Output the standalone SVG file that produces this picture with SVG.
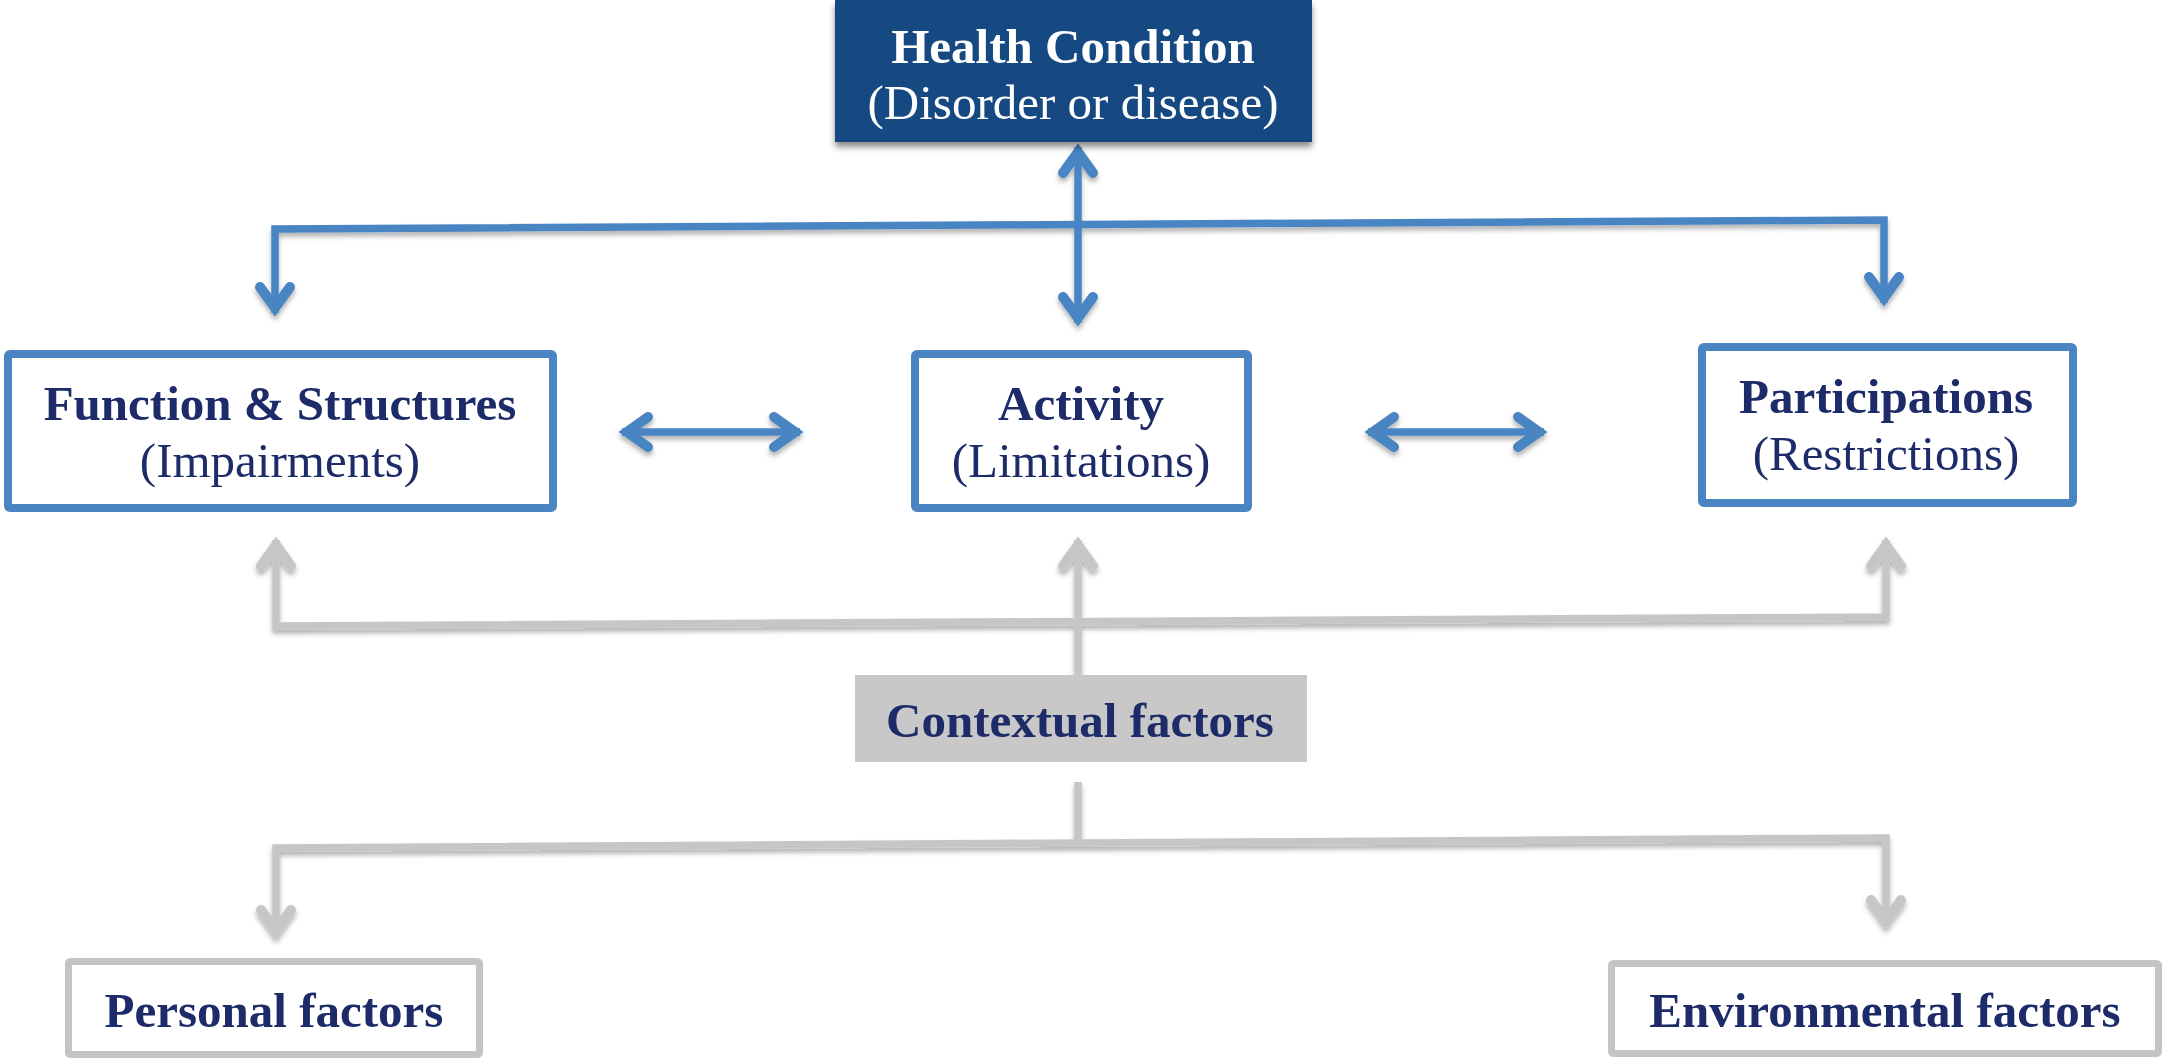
<svg xmlns="http://www.w3.org/2000/svg" width="2165" height="1062" viewBox="0 0 2165 1062">
<style>
.t{font-family:"Liberation Serif","Times New Roman",serif;font-size:49px;fill:#1d2b69;text-anchor:middle}
.b{font-weight:bold}
.w{fill:#ffffff}
.bbox{fill:#ffffff;stroke:#4a84c3;stroke-width:8}
.gbox{fill:#ffffff;stroke:#c4c4c4;stroke-width:7}
.blue{fill:none;stroke:#4a84c3;stroke-width:7.5;stroke-linejoin:miter}
.gray{fill:none;stroke:#c6c6c6;stroke-width:7.5;stroke-linejoin:miter}
</style>
<defs>
<filter id="sh" x="-20%" y="-20%" width="140%" height="160%">
<feDropShadow dx="0" dy="5" stdDeviation="3" flood-color="#000" flood-opacity="0.45"/>
</filter>
<filter id="lsh" x="-5%" y="-50%" width="110%" height="200%">
<feDropShadow dx="0" dy="4" stdDeviation="2.5" flood-color="#000" flood-opacity="0.3"/>
</filter>
<marker id="ab" markerUnits="userSpaceOnUse" viewBox="-40 -25 50 50" markerWidth="50" markerHeight="50" refX="0" refY="0" orient="auto-start-reverse">
<path d="M-26,-15 L-5,0 L-26,15" fill="none" stroke="#4a84c3" stroke-width="10" stroke-linecap="round" stroke-linejoin="miter"/>
</marker>
<marker id="ag" markerUnits="userSpaceOnUse" viewBox="-40 -25 50 50" markerWidth="50" markerHeight="50" refX="0" refY="0" orient="auto-start-reverse">
<path d="M-26,-15 L-5,0 L-26,15" fill="none" stroke="#c6c6c6" stroke-width="10" stroke-linecap="round" stroke-linejoin="miter"/>
</marker>
</defs>
<rect width="2165" height="1062" fill="#ffffff"/>
<g id="connectors">
<g filter="url(#lsh)">
<path class="blue" d="M1078,147 L1078,323" marker-start="url(#ab)" marker-end="url(#ab)"/>
<path class="blue" d="M275,313 L275,229 L1884,220 L1884,303" marker-start="url(#ab)" marker-end="url(#ab)"/>
<path class="blue" d="M622,432 L800,432" marker-start="url(#ab)" marker-end="url(#ab)"/>
<path class="blue" d="M1368,432 L1544,432" marker-start="url(#ab)" marker-end="url(#ab)"/>
</g>
<g filter="url(#lsh)">
<path class="gray" d="M276,540 L276,626 L1886,617 L1886,540" marker-start="url(#ag)" marker-end="url(#ag)"/>
<path class="gray" d="M1078,540 L1078,675" marker-start="url(#ag)"/>
<path class="gray" d="M1078,782 L1078,845"/>
<path class="gray" d="M276,936 L276,848 L1886,838 L1886,926" marker-start="url(#ag)" marker-end="url(#ag)"/>
</g>
</g>
<g id="health">
<rect x="835" y="0" width="477" height="142" fill="#154a82" filter="url(#sh)"/>
<text class="t b w" x="1073" y="63">Health Condition</text>
<text class="t w" x="1073" y="119">(Disorder or disease)</text>
</g>
<g id="function">
<rect class="bbox" x="8" y="354" width="545" height="154" rx="2"/>
<text class="t b" x="280" y="420">Function &amp; Structures</text>
<text class="t" x="280" y="477">(Impairments)</text>
</g>
<g id="activity">
<rect class="bbox" x="915" y="354" width="333" height="154" rx="2"/>
<text class="t b" x="1081" y="420">Activity</text>
<text class="t" x="1081" y="477">(Limitations)</text>
</g>
<g id="participations">
<rect class="bbox" x="1702" y="347" width="371" height="156" rx="2"/>
<text class="t b" x="1886" y="413">Participations</text>
<text class="t" x="1886" y="470">(Restrictions)</text>
</g>
<g id="contextual">
<rect x="855" y="675" width="452" height="87" fill="#c8c8c8"/>
<text class="t b" x="1080" y="737">Contextual factors</text>
</g>
<g id="personal">
<rect class="gbox" x="68.5" y="961.5" width="411" height="93" rx="2"/>
<text class="t b" x="274" y="1027">Personal factors</text>
</g>
<g id="environmental">
<rect class="gbox" x="1611.5" y="963.5" width="547" height="90" rx="2"/>
<text class="t b" x="1885" y="1027">Environmental factors</text>
</g>
</svg>
